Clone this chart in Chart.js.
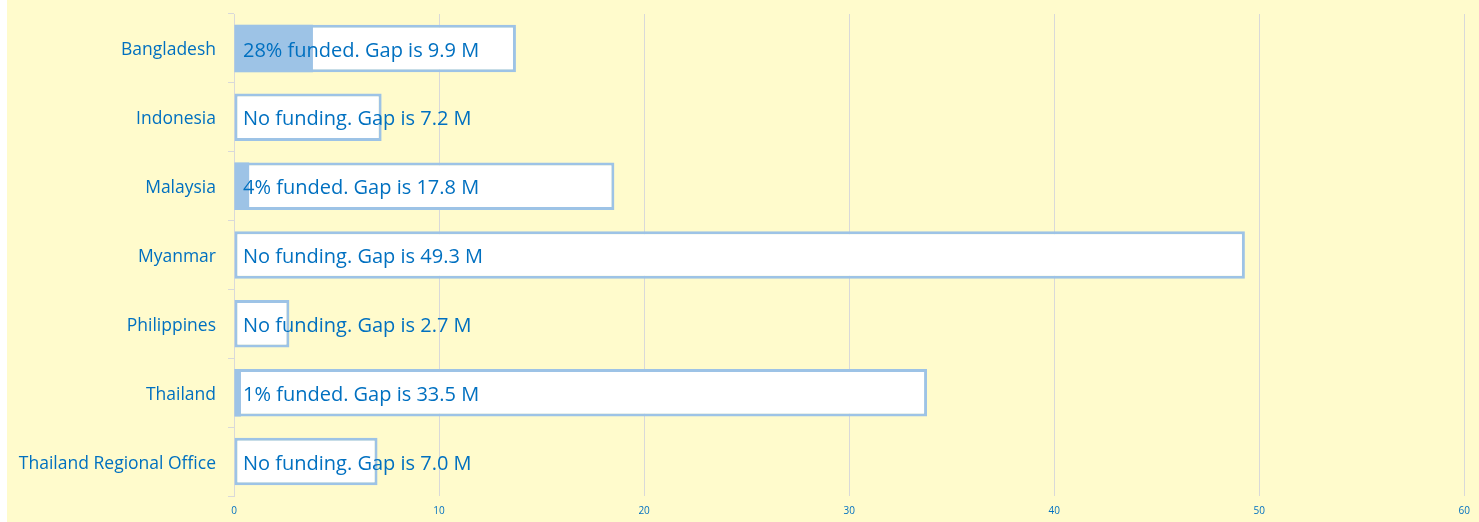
<!DOCTYPE html>
<html>
<head>
<meta charset="utf-8">
<script src="https://cdn.jsdelivr.net/npm/chart.js@4/dist/chart.umd.min.js"></script>
<style>
  html, body { margin: 0; padding: 0; background: #ffffff; }
  #wrap { position: absolute; left: 7px; top: 0; width: 1472px; height: 522px; background: #fffbcc; }
</style>
</head>
<body>
<div id="wrap"><canvas id="chart"></canvas></div>
<script>
// Funding per country, values in millions (USD)
const countries = ['Bangladesh', 'Indonesia', 'Malaysia', 'Myanmar', 'Philippines', 'Thailand', 'Thailand Regional Office'];
const requirement = [13.75, 7.2, 18.55, 49.3, 2.7, 33.8, 7.0];
const funded      = [3.85, 0, 0.74, 0, 0, 0.34, 0];
const barLabels = [
  '28% funded. Gap is 9.9 M',
  'No funding. Gap is 7.2 M',
  '4% funded. Gap is 17.8 M',
  'No funding. Gap is 49.3 M',
  'No funding. Gap is 2.7 M',
  '1% funded. Gap is 33.5 M',
  'No funding. Gap is 7.0 M'
];
const xTicks = [0, 10, 20, 30, 40, 50, 60];

const BLUE_TEXT = '#0070c0';
const BAR_BLUE  = '#9dc3e6';
const GRID      = '#d9d9d9';
const FONT      = "'Open Sans', Lato, sans-serif";

// ── draw the text label inside each bar, starting just after zero
const barTextPlugin = {
  id: 'barText',
  afterDatasetsDraw(chart) {
    const { ctx, scales: { x, y } } = chart;
    ctx.save();
    ctx.font = `20px ${FONT}`;
    ctx.fillStyle = BLUE_TEXT;
    ctx.textBaseline = 'middle';
    ctx.textAlign = 'left';
    barLabels.forEach((txt, i) => {
      ctx.fillText(txt, x.getPixelForValue(0) + 9, y.getPixelForValue(i) + 2.5);
    });
    ctx.restore();
  }
};

new Chart(document.getElementById('chart'), {
  type: 'bar',
  data: {
    labels: countries,
    datasets: [
      {
        label: 'Funded',
        data: funded,
        backgroundColor: BAR_BLUE,
        borderWidth: 0,
        grouped: false,
        barPercentage: 0.69,
        categoryPercentage: 1
      },
      {
        label: 'Requirement',
        data: requirement,
        backgroundColor: '#ffffff',
        borderColor: BAR_BLUE,
        borderWidth: 3,
        borderSkipped: false,
        grouped: false,
        barPercentage: 0.69,
        categoryPercentage: 1
      }
    ]
  },
  options: {
    indexAxis: 'y',
    responsive: true,
    maintainAspectRatio: false,
    animation: false,
    layout: { padding: { top: 14, right: 6, bottom: 0, left: 0 } },
    plugins: {
      legend: { display: false },
      tooltip: { enabled: false }
    },
    scales: {
      x: {
        min: 0,
        max: 60,
        afterBuildTicks: axis => { axis.ticks = xTicks.map(v => ({ value: v })); },
        afterFit: axis => { axis.height = 26; },
        border: { display: false },
        grid: { color: GRID, drawTicks: false },
        ticks: { color: BLUE_TEXT, font: { family: FONT, size: 10 }, padding: 9 }
      },
      y: {
        afterFit: axis => {
          axis.width = 227;
          axis.paddingTop = 0;
          axis.paddingBottom = 0;
        },
        border: { display: true, color: GRID },
        grid: { display: true, drawOnChartArea: false, color: GRID, tickLength: 6, offset: true },
        ticks: { color: BLUE_TEXT, font: { family: FONT, size: 17.5 }, padding: 12, labelOffset: 2 }
      }
    }
  },
  plugins: [barTextPlugin]
});
</script>
</body>
</html>
